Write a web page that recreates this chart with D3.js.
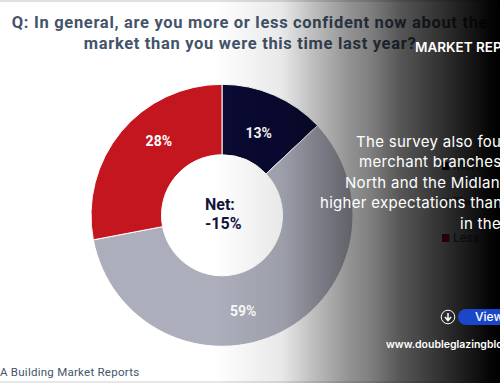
<!DOCTYPE html>
<html>
<head>
<meta charset="utf-8">
<script src="https://cdn.jsdelivr.net/npm/d3@7"></script>
<style>
html, body { margin: 0; padding: 0; background: #fff; overflow: hidden; }
svg { display: block; }
</style>
</head>
<body>
<div class="chart"></div>
<script>
const WIDTH = 500;
const HEIGHT = 383;

const CX = 222;
const CY = 215.3;
const OUTER = 131;
const INNER = 60.5;
const LABEL_R = 95;

var categories = ['More', 'The same', 'Less'];
var values = [13, 59, 28];
var colors = ['#0a0a33', '#acaebb', '#c4161f'];

var titleLines = ['Q: In general, are you more or less confident now about the', 'market than you were this time last year?'];
var netLines = ['Net:', '-15%'];
var overlayLines = ['The survey also found', 'merchant branches', 'North and the Midlands', 'higher expectations than', 'in the'];

// label nudges from the slice centroid, the original labels are hand placed
var labelNudge = [[-1, 5], [-22, 11], [10, -14]];
var overlayX = [356, 359, 345, 320, 460];
// measured fade, [x position, opacity]
var fadeStops = [[215, 0], [282, 0.09], [310, 0.24], [350, 0.43], [370, 0.5], [400, 0.66], [450, 0.84], [490, 0.98], [500, 1]];

var translate = function (x, y) {
    return "translate(" + x + "," + y + ")";
};

var svg = d3.select('.chart').append('svg')
    .attr('width', WIDTH)
    .attr('height', HEIGHT);

// thin grey rules top and bottom of the slide
svg.append('rect').attr('width', WIDTH).attr('height', 2).attr('fill', '#dfe0e4');
svg.append('rect').attr('y', HEIGHT - 2).attr('width', WIDTH).attr('height', 2).attr('fill', '#e6e7ea');

svg.selectAll('.title').data(titleLines)
    .enter().append('text')
    .attr('class', 'title')
    .attr('x', 250)
    .attr('y', (d, i) => 28 + i * 21.3)
    .attr('text-anchor', 'middle')
    .attr('font-family', 'Roboto, sans-serif')
    .attr('font-weight', 700)
    .attr('font-size', 16.5)
    .attr('letter-spacing', 0.68)
    .attr('fill', '#44546a')
    .text(d => d);

var pie = d3.pie().sort(null).value(d => d);
var arc = d3.arc().innerRadius(INNER).outerRadius(OUTER);
var labelArc = d3.arc().innerRadius(LABEL_R).outerRadius(LABEL_R);

var g = svg.append('g').attr('transform', translate(CX, CY));

g.selectAll('path').data(pie(values))
    .enter().append('path')
    .attr('d', arc)
    .attr('fill', (d, i) => colors[i])
    .attr('stroke', '#fff')
    .attr('stroke-width', 1);

g.selectAll('.pct').data(pie(values))
    .enter().append('text')
    .attr('class', 'pct')
    .attr('transform', (d, i) => {
        var c = labelArc.centroid(d);
        return translate(c[0] + labelNudge[i][0], c[1] + labelNudge[i][1]);
    })
    .attr('dy', '0.35em')
    .attr('text-anchor', 'middle')
    .attr('font-family', 'Roboto, sans-serif')
    .attr('font-weight', 700)
    .attr('font-size', 14)
    .attr('fill', '#fff')
    .text(d => d.data + '%');

g.selectAll('.net').data(netLines)
    .enter().append('text')
    .attr('class', 'net')
    .attr('x', -17)
    .attr('y', (d, i) => -5.5 + i * 19.5)
    .attr('font-family', 'Roboto, sans-serif')
    .attr('font-weight', 700)
    .attr('font-size', 16)
    .attr('fill', '#14143a')
    .text(d => d);

// legend
var legend = svg.selectAll('.legend').data(categories)
    .enter().append('g')
    .attr('class', 'legend')
    .attr('transform', (d, i) => translate(442, 170 + i * 36));

legend.append('rect')
    .attr('y', -8).attr('width', 7.5).attr('height', 8)
    .attr('fill', (d, i) => colors[i]);

legend.append('text')
    .attr('x', 11)
    .attr('font-family', 'Roboto, sans-serif')
    .attr('font-size', 12.5)
    .attr('fill', '#44546a')
    .text(d => d);

svg.append('text')
    .attr('x', 0).attr('y', 376)
    .attr('font-family', 'Roboto, sans-serif')
    .attr('font-size', 11.5)
    .attr('letter-spacing', 0.25)
    .attr('fill', '#44546a')
    .text('A Building Market Reports');

// dark gradient laid over the right of the slide
var grad = svg.append('defs').append('linearGradient')
    .attr('id', 'fade')
    .attr('gradientUnits', 'userSpaceOnUse')
    .attr('x1', 0).attr('x2', WIDTH).attr('y1', 0).attr('y2', 0);

grad.selectAll('stop').data(fadeStops)
    .enter().append('stop')
    .attr('offset', d => d[0] / WIDTH)
    .attr('stop-color', '#000')
    .attr('stop-opacity', d => d[1]);

svg.append('rect')
    .attr('width', WIDTH)
    .attr('height', HEIGHT)
    .attr('fill', 'url(#fade)');

// text on top of the fade
svg.append('text')
    .attr('x', 415).attr('y', 52)
    .attr('font-family', 'Inter, sans-serif')
    .attr('font-weight', 600)
    .attr('font-size', 13.5)
    .attr('fill', '#fff')
    .text('MARKET REPORTS');

svg.selectAll('.overlay').data(overlayLines)
    .enter().append('text')
    .attr('class', 'overlay')
    .attr('x', (d, i) => overlayX[i])
    .attr('y', (d, i) => 147 + i * 20.4)
    .attr('font-family', 'Inter, sans-serif')
    .attr('font-size', 15)
    .attr('letter-spacing', 0.3)
    .attr('fill', '#fff')
    .text(d => d);

// download icon and button
var icon = svg.append('g').attr('transform', translate(448, 317));
icon.append('circle').attr('r', 6.8).attr('fill', 'none').attr('stroke', '#fff').attr('stroke-width', 1);
icon.append('path').attr('d', 'M0,-4V3M-3,0L0,3.5L3,0').attr('fill', 'none').attr('stroke', '#fff').attr('stroke-width', 1.5);

svg.append('rect')
    .attr('x', 458).attr('y', 309).attr('width', 70).attr('height', 16).attr('rx', 8)
    .attr('fill', '#1c46c9');

svg.append('text')
    .attr('x', 475).attr('y', 321)
    .attr('font-family', 'Inter, sans-serif')
    .attr('font-weight', 500)
    .attr('font-size', 12)
    .attr('fill', '#fff')
    .text('View');

svg.append('text')
    .attr('x', 386).attr('y', 348)
    .attr('font-family', 'Inter, sans-serif')
    .attr('font-weight', 600)
    .attr('font-size', 10.5)
    .attr('fill', '#fff')
    .text('www.doubleglazingblogger.com');
</script>
</body>
</html>
